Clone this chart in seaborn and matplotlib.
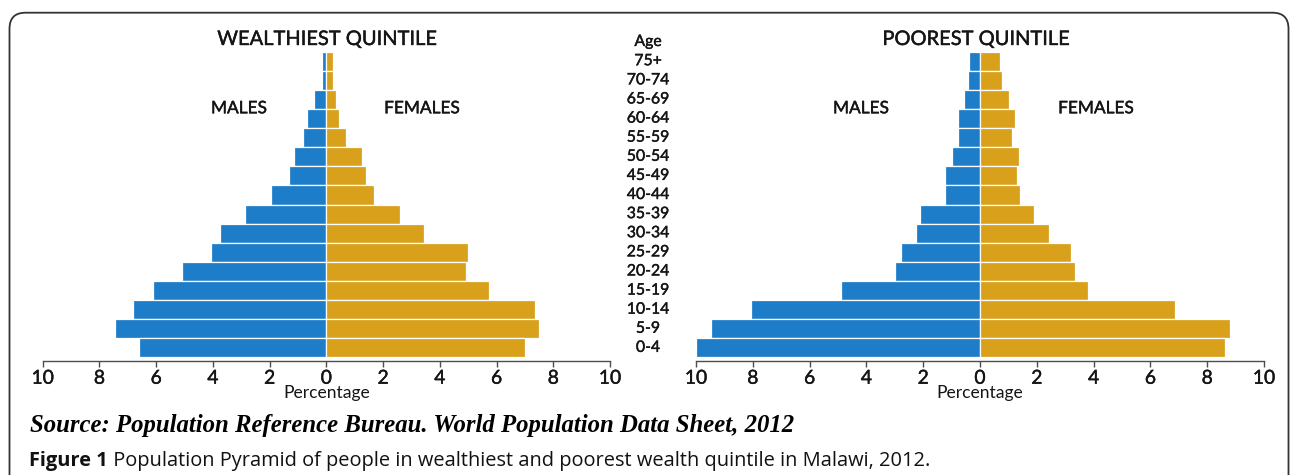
import numpy as np
import pandas as pd
import matplotlib
matplotlib.use("Agg")
import matplotlib.pyplot as plt
import matplotlib.patheffects as pe
import seaborn as sns
from matplotlib.patches import FancyBboxPatch
from matplotlib.transforms import IdentityTransform, blended_transform_factory

# ---------------- data ----------------
ages = ['75+', '70-74', '65-69', '60-64', '55-59', '50-54', '45-49', '40-44',
        '35-39', '30-34', '25-29', '20-24', '15-19', '10-14', '5-9', '0-4']
rich_males = [0.14, 0.17, 0.45, 0.69, 0.82, 1.15, 1.30, 1.94,
              2.88, 3.74, 4.07, 5.08, 6.12, 6.80, 7.45, 6.62]
rich_females = [0.22, 0.22, 0.35, 0.46, 0.69, 1.24, 1.41, 1.67,
                2.58, 3.45, 5.00, 4.92, 5.74, 7.34, 7.48, 6.99]
poor_males = [0.37, 0.43, 0.56, 0.77, 0.77, 0.97, 1.22, 1.24,
              2.12, 2.26, 2.77, 3.01, 4.91, 8.08, 9.48, 10.0]
poor_females = [0.72, 0.77, 1.03, 1.22, 1.12, 1.36, 1.30, 1.41,
                1.91, 2.42, 3.19, 3.33, 3.81, 6.87, 8.80, 8.62]
sexes = ['Males', 'Females']
x_ticks = [-10, -8, -6, -4, -2, 0, 2, 4, 6, 8, 10]
x_tick_labels = [str(abs(t)) for t in x_ticks]
panel_titles = ['WEALTHIEST QUINTILE', 'POOREST QUINTILE']

BLUE = '#1e7dc9'
GOLD = '#d9a11b'
TXT = '#151515'
AXC = '#4d4d4d'
THICK = [pe.withStroke(linewidth=0.3, foreground=TXT)]

sns.set_style('white')
plt.rcParams['font.family'] = ['Lato', 'DejaVu Sans']

W, H = 1290, 475
fig = plt.figure(figsize=(W / 100, H / 100), dpi=100)
fig.patch.set_facecolor('white')


def fx(x):
    return x / W


def fy(y):
    return 1 - y / H


renderer = fig.canvas.get_renderer()


def fit(t, target):
    for _ in range(3):
        bb = t.get_window_extent(renderer)
        t.set_fontsize(t.get_fontsize() * target / bb.width)
    return t.get_fontsize()


def make_df(m, f):
    return pd.DataFrame({
        'age': ages * 2,
        'sex': [sexes[0]] * len(ages) + [sexes[1]] * len(ages),
        'pct': [-v for v in m] + list(f),
    })


# age label size: "70-74" about 42 px wide
tmp = fig.text(0, 0, '70-74', fontsize=10)
age_size = fit(tmp, 42.5)
tmp.remove()
tick_size = age_size * 1.22

axes_px = [(42.7, 610), (696, 1264)]
data_sets = [(rich_males, rich_females), (poor_males, poor_females)]
axes = []
for (x0, x1), (m, f) in zip(axes_px, data_sets):
    ax = fig.add_axes([fx(x0), fy(360.7), (x1 - x0) / W, 309 / H])
    sns.barplot(data=make_df(m, f), x='pct', y='age', hue='sex',
                order=ages, hue_order=sexes, palette=[BLUE, GOLD],
                saturation=1, dodge=False, width=1.0, edgecolor='white',
                linewidth=0.9, errorbar=None, legend=False, orient='h', ax=ax)
    ax.set_xlim(-10, 10)
    ax.set_ylim(len(ages) - 0.5 + 0.17, -0.5)
    ax.set_xticks(x_ticks)
    ax.set_xticklabels(x_tick_labels)
    for lab in ax.get_xticklabels():
        lab.set_path_effects(THICK)
    ax.set_yticks([])
    ax.set_xlabel('')
    ax.set_ylabel('')
    for s in ['left', 'right', 'top']:
        ax.spines[s].set_visible(False)
    ax.spines['bottom'].set_color(AXC)
    ax.spines['bottom'].set_linewidth(1.0)
    ax.tick_params(axis='x', direction='out', length=4, width=1.0,
                   color=AXC, pad=2.5, labelsize=tick_size, labelcolor=TXT,
                   bottom=True)
    ax.set_facecolor('none')
    axes.append(ax)

# titles
t1 = fig.text(fx(327.5), fy(45), panel_titles[0], ha='center', va='baseline', color=TXT)
title_size = fit(t1, 220)
t1.set_path_effects(THICK)
fig.text(fx(976.5), fy(45), panel_titles[1], ha='center', va='baseline',
         color=TXT, fontsize=title_size, path_effects=THICK)

# MALES / FEMALES
m1 = fig.text(fx(239), fy(113.3), 'MALES', ha='center', va='baseline', color=TXT)
ms = fit(m1, 56)
m1.set_path_effects(THICK)
for xp, lab in [(422, 'FEMALES'), (861, 'MALES'), (1096, 'FEMALES')]:
    fig.text(fx(xp), fy(113.3), lab, ha='center', va='baseline', color=TXT,
             fontsize=ms, path_effects=THICK)

# Percentage labels
p1 = fig.text(fx(326.5), fy(393), 'Percentage', ha='center', va='center', color=TXT)
ps = fit(p1, 86.7)
fig.text(fx(980), fy(393), 'Percentage', ha='center', va='center', color=TXT, fontsize=ps)

# age labels between the panels (aligned to bar rows)
trans = blended_transform_factory(fig.transFigure, axes[0].transData)
for i, a in enumerate(ages):
    fig.text(fx(648), i, a, transform=trans, ha='center', va='center',
             fontsize=age_size, color=TXT, path_effects=THICK)
fig.text(fx(648), fy(46), 'Age', ha='center', va='baseline', fontsize=age_size,
         color=TXT, path_effects=THICK)

# source line
src = fig.text(fx(30), fy(432), 'Source: Population Reference Bureau. World Population Data Sheet, 2012',
               ha='left', va='baseline', color='black', family='Liberation Serif',
               style='italic', weight='bold')
fit(src, 762)

# caption line
cap_b = fig.text(fx(29), fy(466), 'Figure 1', ha='left', va='baseline', color='#111111',
                 family=['Open Sans', 'DejaVu Sans'], weight='bold', fontsize=12)
cap_r = fig.text(fx(29), fy(466), ' Population Pyramid of people in wealthiest and poorest wealth quintile in Malawi, 2012.',
                 ha='left', va='baseline', color='#111111',
                 family=['Open Sans', 'DejaVu Sans'], fontsize=12)
for _ in range(3):
    wb = cap_b.get_window_extent(renderer).width
    wr = cap_r.get_window_extent(renderer).width
    k = 904 / (wb + wr)
    cap_b.set_fontsize(cap_b.get_fontsize() * k)
    cap_r.set_fontsize(cap_r.get_fontsize() * k)
wb = cap_b.get_window_extent(renderer).width
cap_r.set_x(fx(29 + wb))

# rounded frame
frame = FancyBboxPatch((9.5, -40), 1279, H - 12.7 + 40,
                       boxstyle='round,pad=0,rounding_size=16',
                       transform=IdentityTransform(), fill=False,
                       edgecolor='#333333', linewidth=1.3)
fig.add_artist(frame)

fig.savefig('out.png', dpi=100)
